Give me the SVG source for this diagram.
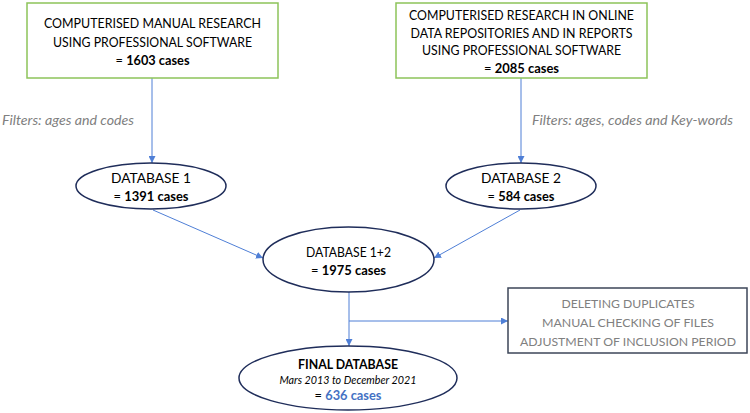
<svg xmlns="http://www.w3.org/2000/svg" width="750" height="413" viewBox="0 0 750 413">
<style>
text{font-family:Lato,"Open Sans","Liberation Sans",sans-serif;font-size:13.2px;fill:#000;text-anchor:middle}
.b{font-weight:bold}
.src{fill:#fff;stroke:#8dc35a;stroke-width:1.5}
.ell{fill:#fff;stroke:#1f2d5a;stroke-width:1.5}
.grey{fill:#808080;font-size:12px}
.flt{fill:#808080;font-style:italic;font-size:13px;text-anchor:start}
.box3{fill:#fff;stroke:#3d4658;stroke-width:1.5}
.con{stroke:#4f7fd6;stroke-width:1;fill:none}
</style>
<defs>
<marker id="ah" viewBox="0 0 10 10" refX="10" refY="5" markerWidth="7" markerHeight="7" orient="auto" markerUnits="userSpaceOnUse">
<path d="M0,0 L10,5 L0,10 z" fill="#4f7fd6"/>
</marker>
</defs>
<g id="connectors">
<line class="con" x1="152" y1="78" x2="152" y2="163" marker-end="url(#ah)"/>
<line class="con" x1="521" y1="78" x2="521" y2="163" marker-end="url(#ah)"/>
<line class="con" x1="153" y1="210" x2="263" y2="258" marker-end="url(#ah)"/>
<line class="con" x1="520" y1="210" x2="434" y2="258" marker-end="url(#ah)"/>
<line class="con" x1="349" y1="292" x2="349" y2="346" marker-end="url(#ah)"/>
<line class="con" x1="349" y1="321" x2="508" y2="321" marker-end="url(#ah)"/>
</g>
<g id="label-filters1"><text class="flt" x="2" y="125" textLength="132" lengthAdjust="spacingAndGlyphs">Filters: ages and codes</text></g>
<g id="label-filters2"><text class="flt" x="532" y="125" textLength="201" lengthAdjust="spacingAndGlyphs">Filters: ages, codes and Key-words</text></g>
<g id="source1">
<rect class="src" x="27" y="3" width="251" height="75"/>
<text x="152.5" y="28" textLength="217" lengthAdjust="spacingAndGlyphs">COMPUTERISED MANUAL RESEARCH</text>
<text x="152.5" y="46.5" textLength="199" lengthAdjust="spacingAndGlyphs">USING PROFESSIONAL SOFTWARE</text>
<text x="152.5" y="65" textLength="74" lengthAdjust="spacingAndGlyphs">= <tspan class="b">1603 cases</tspan></text>
</g>
<g id="source2">
<rect class="src" x="396" y="3" width="251" height="75"/>
<text x="521.5" y="20" textLength="225" lengthAdjust="spacingAndGlyphs">COMPUTERISED RESEARCH IN ONLINE</text>
<text x="521.5" y="37.5" textLength="222" lengthAdjust="spacingAndGlyphs">DATA REPOSITORIES AND IN REPORTS</text>
<text x="521.5" y="55" textLength="199" lengthAdjust="spacingAndGlyphs">USING PROFESSIONAL SOFTWARE</text>
<text x="521.5" y="72.5" textLength="75" lengthAdjust="spacingAndGlyphs">= <tspan class="b">2085 cases</tspan></text>
</g>
<g id="db1">
<ellipse class="ell" cx="151" cy="186" rx="75" ry="23"/>
<text x="151" y="183" textLength="80" lengthAdjust="spacingAndGlyphs">DATABASE 1</text>
<text x="151" y="201" textLength="75" lengthAdjust="spacingAndGlyphs">= <tspan class="b">1391 cases</tspan></text>
</g>
<g id="db2">
<ellipse class="ell" cx="521" cy="186" rx="75" ry="23"/>
<text x="521" y="183" textLength="80" lengthAdjust="spacingAndGlyphs">DATABASE 2</text>
<text x="521" y="201" textLength="67" lengthAdjust="spacingAndGlyphs">= <tspan class="b">584 cases</tspan></text>
</g>
<g id="db12">
<ellipse class="ell" cx="348.5" cy="259.5" rx="85.5" ry="32.5"/>
<text x="348.5" y="257" textLength="85" lengthAdjust="spacingAndGlyphs">DATABASE 1+2</text>
<text x="348.5" y="275" textLength="75" lengthAdjust="spacingAndGlyphs">= <tspan class="b">1975 cases</tspan></text>
</g>
<g id="process">
<rect class="box3" x="508" y="288" width="239" height="65"/>
<text class="grey" x="628" y="308" textLength="133" lengthAdjust="spacingAndGlyphs">DELETING DUPLICATES</text>
<text class="grey" x="628" y="327" textLength="172" lengthAdjust="spacingAndGlyphs">MANUAL CHECKING OF FILES</text>
<text class="grey" x="628" y="345.5" textLength="216" lengthAdjust="spacingAndGlyphs">ADJUSTMENT OF INCLUSION PERIOD</text>
</g>
<g id="final">
<ellipse class="ell" cx="348" cy="378" rx="109" ry="32"/>
<text class="b" x="348" y="368.5" textLength="100" lengthAdjust="spacingAndGlyphs">FINAL DATABASE</text>
<text x="348" y="384" style="font-style:italic;font-size:11.5px" textLength="137" lengthAdjust="spacingAndGlyphs">Mars 2013 to December 2021</text>
<text x="348" y="399.5" textLength="67" lengthAdjust="spacingAndGlyphs">= <tspan class="b" fill="#4472c4">636 cases</tspan></text>
</g>
</svg>
